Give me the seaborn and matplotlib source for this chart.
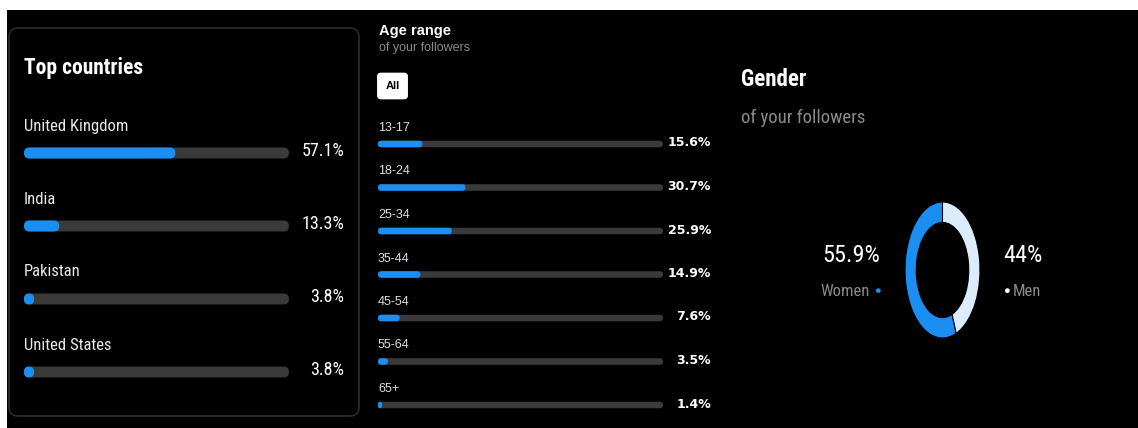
import matplotlib
matplotlib.use("Agg")
import matplotlib.pyplot as plt
import seaborn as sns
from matplotlib.patches import FancyBboxPatch, Rectangle

# data
countries = ["United Kingdom", "India", "Pakistan", "United States"]
country_pct = [57.1, 13.3, 3.8, 3.8]

age_ranges = ["13-17", "18-24", "25-34", "35-44", "45-54", "55-64", "65+"]
age_pct = [15.6, 30.7, 25.9, 14.9, 7.6, 3.5, 1.4]

genders = ["Women", "Men"]
gender_pct = [55.9, 44]
gender_labels = ["55.9%", "44%"]

BLUE = "#1a8ef2"
TRACK = "#3a3a3a"
LIGHT = "#dcecfc"
GREY = "#8a8a8a"

NARROW = ["Roboto Condensed", "Liberation Sans Narrow", "Roboto", "DejaVu Sans"]
REG = ["Liberation Sans", "DejaVu Sans"]

sns.set_style("dark")
plt.rcParams["font.family"] = REG

W, H = 1138, 428
fig = plt.figure(figsize=(W / 100, H / 100), dpi=100, facecolor="black")


def px_axes(x0, y0, x1, y1):
    ax = fig.add_axes([x0 / W, 1 - y1 / H, (x1 - x0) / W, (y1 - y0) / H])
    ax.set_facecolor("none")
    ax.set_zorder(2)
    return ax


def ftext(x, y, s, **kw):
    kw.setdefault("va", "center")
    kw.setdefault("color", "white")
    return fig.text(x / W, 1 - y / H, s, zorder=3, **kw)


def round_bars(ax):
    # swap seaborn's rectangles for pill shaped ones
    fig.canvas.draw()
    bb = ax.get_window_extent()
    x0, x1 = ax.get_xlim()
    y0, y1 = ax.get_ylim()
    ppx = bb.width / abs(x1 - x0)
    ppy = bb.height / abs(y1 - y0)
    for p in list(ax.patches):
        if not isinstance(p, Rectangle):
            continue
        x, y, w, h = p.get_x(), p.get_y(), p.get_width(), p.get_height()
        if w <= 0:
            p.remove()
            continue
        r_px = min(abs(h) * ppy / 2, w * ppx / 2)
        new = FancyBboxPatch((x, min(y, y + h)), w, abs(h),
                             boxstyle=f"round,pad=0,rounding_size={r_px / ppx}",
                             mutation_aspect=ppx / ppy,
                             facecolor=p.get_facecolor(), edgecolor="none",
                             zorder=p.get_zorder())
        p.remove()
        ax.add_patch(new)


def bar_panel(ax, cats, vals, thick, lab_off, val_x, val_off, lab_kw, val_kw):
    sns.barplot(x=[100] * len(cats), y=cats, orient="h", color=TRACK,
                width=thick, ax=ax, saturation=1)
    sns.barplot(x=vals, y=cats, orient="h", color=BLUE,
                width=thick, ax=ax, saturation=1)
    ax.set_xlim(0, 100)
    ax.set_ylim(len(cats) - 0.5, -0.5)
    ax.axis("off")
    for i, (c, v) in enumerate(zip(cats, vals)):
        ax.text(0, i - lab_off, c, ha="left", va="center",
                clip_on=False, **lab_kw)
        ax.text(val_x, i - val_off, f"{v}%", ha="right", va="center",
                color="white", clip_on=False, **val_kw)


# white strips of the screenshot
fig.patches.append(Rectangle((0, 1 - 10 / H), 1, 10 / H, transform=fig.transFigure,
                             facecolor="white", edgecolor="none", zorder=-1))
fig.patches.append(Rectangle((0, 0), 7 / W, 1, transform=fig.transFigure,
                             facecolor="white", edgecolor="none", zorder=-1))

# left card
fig.patches.append(FancyBboxPatch((9 / W, 1 - 416 / H), 350 / W, 388 / H,
                                  boxstyle="round,pad=0,rounding_size=0.008",
                                  mutation_aspect=W / H,
                                  transform=fig.transFigure, facecolor="black",
                                  edgecolor="#2c2c2c", linewidth=1.2, zorder=-1))

ftext(24, 68, "Top countries", fontsize=15.5, fontweight="bold", family=NARROW)
ax1 = px_axes(24, 116.5, 289, 408.5)
bar_panel(ax1, countries, country_pct, 0.15, 27 / 73, 120.75, 2 / 73,
          dict(fontsize=12, family=NARROW, color="#e8e8e8"),
          dict(fontsize=13, family=NARROW))

# age range
ftext(379, 31, "Age range", fontsize=10.5, fontweight="bold")
ftext(379, 48, "of your followers", fontsize=9, color=GREY)
ftext(392.5, 86, "All", fontsize=8, fontweight="bold", color="black", ha="center",
      bbox=dict(boxstyle="round,pad=0.75,rounding_size=0.35", facecolor="white",
                edgecolor="none"))
ax2 = px_axes(378, 122.25, 663, 426.75)
bar_panel(ax2, age_ranges, age_pct, 0.15, 16 / 43.5, 116.8, 1 / 43.5,
          dict(fontsize=9, color="#dddddd"), dict(fontsize=9, fontweight="bold",
                                                  family=["DejaVu Sans"]))

# gender
ftext(741, 80, "Gender", fontsize=16.5, fontweight="bold", family=NARROW)
ftext(741, 118, "of your followers", fontsize=13.5, color=GREY, family=NARROW)

ax3 = px_axes(905, 202, 980, 338)
ax3.pie(gender_pct, colors=[BLUE, LIGHT], startangle=90, counterclock=True,
        wedgeprops=dict(width=0.3, edgecolor="black", linewidth=0.8))
ax3.set_aspect("auto")
ax3.set_xlim(-1, 1)
ax3.set_ylim(-1, 1)
ax3.axis("off")

ftext(880, 256, gender_labels[0], fontsize=17.5, ha="right", family=NARROW)
ftext(870, 291, genders[0], fontsize=12, ha="right", color=GREY, family=NARROW)
ftext(877, 291, "\u25cf", fontsize=8, ha="center", color=BLUE)
ftext(1003, 256, gender_labels[1], fontsize=17.5, ha="left", family=NARROW)
ftext(1006, 291, "\u25cf", fontsize=8, ha="center", color="white")
ftext(1013, 291, genders[1], fontsize=12, ha="left", color=GREY, family=NARROW)

round_bars(ax1)
round_bars(ax2)

fig.savefig("out.png", dpi=100, facecolor="black")
